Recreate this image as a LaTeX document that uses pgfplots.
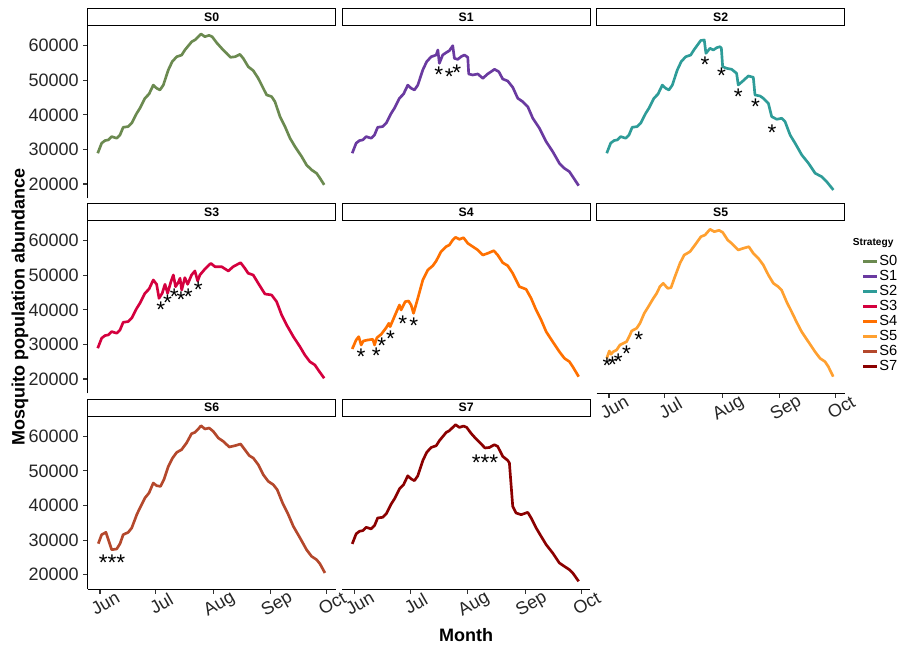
\documentclass[border=0pt]{standalone}
\usepackage{fontspec}
\setmainfont{Liberation Sans}
\usepackage{pgfplots}
\pgfplotsset{compat=1.18}

\definecolor{cS0}{RGB}{107,138,80}
\definecolor{cS1}{RGB}{106,58,160}
\definecolor{cS2}{RGB}{46,156,152}
\definecolor{cS3}{RGB}{212,0,62}
\definecolor{cS4}{RGB}{255,112,0}
\definecolor{cS5}{RGB}{255,160,48}
\definecolor{cS6}{RGB}{180,72,44}
\definecolor{cS7}{RGB}{139,0,0}

\pgfplotsset{
  panel/.style={
    scale only axis, width=186pt, height=129.375pt, anchor=north west,
    xmin=-6.6, xmax=126.9, ymin=15800, ymax=65700,
    axis lines*=left,
    axis line style={-, line width=0.8pt, draw=none},
    xtick=\empty, ytick=\empty,
    xtick pos=left, ytick pos=left,
    tick align=outside, major tick length=3.3pt,
    tick style={line width=0.8pt, black!80},
    /pgf/number format/assume math mode=true,
    tick label style={font=\fontsize{13.5}{16}\selectfont, text=black!85},
    every axis title/.style={at={(0.5,1)}, anchor=south, draw=black,
      line width=0.8pt, fill=white, minimum width=186pt,
      minimum height=12.75pt, inner sep=0pt,
      font=\bfseries\fontsize{9.2}{10}\selectfont},
  },
  yax/.style={ytick={20000,30000,40000,50000,60000},
    y axis line style={draw=black},
    scaled y ticks=false, yticklabel style={/pgf/number format/1000 sep={}}},
  xax/.style={xtick={0,30,61,92,122},
    x axis line style={draw=black},
    xticklabels={Jun,Jul,Aug,Sep,Oct},
    xticklabel style={rotate=30, anchor=north}},
  ser/.style={line width=2pt, color=#1, no markers, line join=round},
  star/.style={only marks, mark=text, text mark={#1}, text mark as node=true,
    text mark style={font=\fontsize{17}{17}\selectfont, text=black}},
}

\begin{document}
\begin{tikzpicture}
\useasboundingbox (0,0) rectangle (675pt,486pt);

% ---- S0
\begin{axis}[panel, yax, at={(65.78pt,466.5pt)}, title={S0}]
\addplot[ser=cS0] coordinates {
(-1.2,28900) (0.9,31800) (2.7,32550) (4.5,32750) (6.3,33700) (9.0,33240)
(10.8,34200) (12.5,36400) (15.2,36600) (17.1,37600) (19.8,40460) (21.5,41900)
(24.2,44800) (26.4,46000) (28.7,48600) (30.5,47700) (32.3,47200) (34.1,48600)
(36.8,53000) (38.9,55400) (41.3,56800) (44.0,57300) (45.7,58750) (49.4,61160)
(51.1,61650) (52.9,62600) (54.4,63380) (56.5,62600) (58.7,63000) (60.4,62600)
(62.8,60870) (65.5,59250) (68.2,57800) (70.3,56650) (72.7,56800) (75.3,57500)
(77.1,56350) (79.8,53930) (82.5,52800) (85.2,50580) (87.0,48650) (89.7,45760)
(92.4,45270) (94.2,43800) (96.9,39500) (99.6,36600) (102.3,33240) (105.0,30800)
(108.6,27900) (111.2,25500) (113.9,24080) (116.6,23100) (118.4,21700) (120.7,19750)
};
\end{axis}

% ---- S1
\begin{axis}[panel, at={(256.65pt,466.5pt)}, title={S1}]
\addplot[ser=cS1] coordinates {
(-1.2,28900) (0.9,31800) (2.7,32550) (4.5,32750) (6.3,33700) (9.0,33240)
(10.8,34200) (12.5,36400) (15.2,36600) (17.1,37600) (19.8,40460) (21.5,41900)
(24.2,44800) (26.4,46000) (28.7,48600) (30.5,47700) (32.3,47200) (34.1,48600)
(36.8,53000) (38.9,55400) (41.3,56800) (44.0,57310) (44.9,58760) (45.7,54900)
(47.5,57310) (49.3,57980) (51.1,58560) (52.9,60000) (53.8,56340) (55.6,56050)
(57.4,56820) (59.2,57310) (61.0,56640) (61.5,51820) (63.7,51530) (66.4,51820)
(69.1,50570) (71.7,51820) (75.4,53170) (77.7,52480) (79.8,50370) (82.5,49790)
(85.2,47970) (87.9,44790) (90.6,43800) (93.3,42360) (96.0,39000) (99.6,36110)
(103.2,32240) (106.7,29380) (110.3,25990) (113.0,24540) (115.7,23560)
(117.5,22110) (120.7,19510)
};
\addplot[star={*}] coordinates {(45.4,51470) (51.1,50890) (55.1,52170)};
\end{axis}

% ---- S2
\begin{axis}[panel, at={(447.53pt,466.5pt)}, title={S2}]
\addplot[ser=cS2] coordinates {
(-1.2,28900) (0.9,31800) (2.7,32550) (4.5,32750) (6.3,33700) (9.0,33240)
(10.8,34200) (12.5,36400) (15.2,36600) (17.1,37600) (19.8,40460) (21.5,41900)
(24.2,44800) (26.4,46000) (28.7,48600) (30.5,47700) (32.3,47200) (34.1,48600)
(36.8,53000) (38.9,55400) (41.3,56800) (44.0,57300) (45.7,58750) (49.4,61500)
(51.3,61650) (52.2,57800) (54.4,59250) (56.2,58760) (58.0,59420) (59.8,59710)
(60.5,59300) (61.2,53930) (63.3,53460) (66.0,53180) (68.7,52020) (69.6,48640)
(72.3,49880) (75.0,51240) (77.7,50860) (78.6,45740) (81.3,45460) (83.1,44790)
(85.8,43340) (87.6,39470) (90.3,38720) (93.0,39000) (94.8,38020) (97.5,34180)
(100.2,31780) (103.8,28390) (107.4,25990) (111.0,23100) (114.5,22110)
(117.2,20670) (120.8,18270)
};
\addplot[star={*}] coordinates {(51.7,54560) (60.6,51180) (69.6,45220) (78.9,42330) (87.8,34810)};
\end{axis}

% ---- S3
\begin{axis}[panel, yax, at={(65.78pt,320.25pt)}, title={S3},
  ylabel={Mosquito population abundance},
  every axis y label/.style={at={(axis description cs:0,0.5)}, xshift=-50.8pt,
    rotate=90, anchor=center, font=\bfseries\fontsize{13.5}{16}\selectfont}]
\addplot[ser=cS3] coordinates {
(-1.2,28900) (0.9,31800) (2.7,32550) (4.5,32750) (6.3,33700) (9.0,33240)
(10.8,34200) (12.5,36400) (15.2,36600) (17.1,37600) (19.8,40460) (21.5,41900)
(24.2,44800) (26.4,46000) (28.7,48640) (30.5,47390) (31.8,43340) (33.5,44790)
(35.0,47390) (36.4,44790) (38.2,48140) (39.5,50080) (40.7,46700) (42.2,47970)
(43.1,49130) (44.0,45740) (45.7,49310) (47.2,47390) (49.3,50080) (51.1,51240)
(52.6,48350) (53.8,50080) (56.5,51820) (59.7,53460) (61.9,52480) (65.5,52480)
(69.1,51240) (71.7,52480) (75.7,53640) (78.0,52020) (79.8,50570) (82.5,50080)
(85.2,47680) (88.8,44590) (92.4,44300) (95.1,42360) (97.8,38520) (100.5,35620)
(104.1,32240) (107.6,29380) (110.3,26940) (113.0,25000) (115.7,24050)
(117.5,22610) (120.7,20210)
};
\addplot[star={*}] coordinates {(32.8,40100) (36.4,42040) (40.0,43780) (43.6,42800) (47.5,43780) (52.9,45700)};
\end{axis}

% ---- S4
\begin{axis}[panel, at={(256.65pt,320.25pt)}, title={S4}]
\addplot[ser=cS4] coordinates {
(-1.2,28680) (0.9,31280) (2.3,32240) (3.6,29840) (4.8,31000) (7.2,31280)
(9.9,31480) (10.8,29840) (12.1,31950) (14.4,32930) (17.1,34840) (18.5,36110)
(19.2,35130) (21.5,38020) (24.2,41400) (25.1,39960) (27.3,42360) (29.1,42560)
(30.5,41400) (31.8,39000) (34.1,43340) (36.8,48640) (39.5,51530) (42.2,52770)
(44.0,54130) (46.6,56820) (49.3,58270) (51.1,58760) (52.9,60200) (54.4,60980)
(56.5,60400) (58.7,60870) (61.0,59250) (63.7,58270) (66.4,57310) (69.1,55860)
(71.7,56340) (75.0,57110) (77.1,55860) (79.8,53640) (82.5,52770) (85.2,50570)
(88.8,46700) (92.4,45950) (95.1,43340) (97.8,39960) (100.5,37070) (103.2,33680)
(106.7,30790) (110.3,27900) (113.0,25990) (115.7,25010) (117.5,23560) (120.7,20670)
};
\addplot[star={*}] coordinates {(3.6,26430) (11.7,26600) (14.7,29490) (19.4,31630) (26.0,36050) (31.9,35270)};
\end{axis}

% ---- S5 (carries the legend)
\begin{axis}[panel, xax, at={(447.53pt,320.25pt)}, title={S5},
  clip mode=individual,
  legend style={at={(1,0.461)}, anchor=west, xshift=12.75pt, draw=none, fill=none,
    font=\fontsize{11}{13}\selectfont, row sep=-0.8pt, inner sep=0pt,
    nodes={inner sep=1pt, text height=8pt, text depth=2pt}},
  legend cell align=left,
  legend image code/.code={\draw[#1] (0pt,0pt) -- (10pt,0pt);}]
\addplot[ser=cS5, forget plot] coordinates {
(-1.2,25990) (0.2,28100) (1.1,27150) (2.3,27900) (4.1,28390) (5.9,29840)
(7.7,30330) (9.5,30790) (11.3,32730) (12.2,33890) (14.9,34670) (16.7,36110)
(19.0,39000) (21.2,40910) (23.9,43340) (25.7,44790) (27.4,46700) (29.2,47680)
(31.6,46230) (33.4,46410) (35.5,49590) (38.2,53460) (40.5,55860) (43.6,56820)
(46.3,58760) (49.5,61160) (51.7,61650) (54.4,63300) (56.7,62600) (59.2,63010)
(61.2,62430) (63.9,60200) (66.0,59250) (69.6,57310) (72.3,57800) (75.3,58260)
(77.7,56340) (80.4,54910) (83.1,52970) (85.8,50080) (88.5,47680) (91.1,46700)
(92.9,45740) (95.6,42360) (98.3,39470) (100.9,36570) (103.7,33680) (107.3,30790)
(110.9,27900) (113.6,25990) (116.3,25010) (118.1,23560) (120.7,20670)
};
\addplot[star={*}, forget plot] coordinates {(-1.0,23710) (1.9,24200) (5.0,24860) (9.5,27380) (16.1,31430)};
\addlegendimage{line width=2pt, cS0}\addlegendentry{S0}
\addlegendimage{line width=2pt, cS1}\addlegendentry{S1}
\addlegendimage{line width=2pt, cS2}\addlegendentry{S2}
\addlegendimage{line width=2pt, cS3}\addlegendentry{S3}
\addlegendimage{line width=2pt, cS4}\addlegendentry{S4}
\addlegendimage{line width=2pt, cS5}\addlegendentry{S5}
\addlegendimage{line width=2pt, cS6}\addlegendentry{S6}
\addlegendimage{line width=2pt, cS7}\addlegendentry{S7}
\node[anchor=west, inner sep=0pt, font=\bfseries\fontsize{7.6}{8}\selectfont]
  at (axis description cs:1.032,0.871) {Strategy};
\end{axis}

% ---- S6
\begin{axis}[panel, yax, xax, at={(65.78pt,173.48pt)}, title={S6}]
\addplot[ser=cS6] coordinates {
(-0.9,28970) (0.9,31580) (3.2,32240) (6.3,27230) (9.0,27430) (10.8,28970)
(12.5,31580) (15.2,32240) (17.1,33510) (19.8,37360) (21.5,39290) (24.2,42180)
(26.4,43630) (28.7,46520) (30.5,45740) (32.6,45540) (34.4,47480) (36.8,51320)
(39.1,53750) (41.3,55370) (43.9,56150) (46.6,58090) (49.3,60780) (51.1,61160)
(52.9,62140) (54.4,63090) (56.5,62140) (58.8,62430) (61.0,61450) (63.7,59540)
(66.4,58550) (69.6,56930) (72.7,57310) (75.7,57800) (78.0,56150) (80.4,54420)
(82.5,53750) (85.2,51820) (87.9,48920) (90.6,46990) (93.3,46030) (95.4,44590)
(98.3,40740) (101.4,37360) (104.1,33970) (107.7,30620) (111.2,27230)
(113.9,25300) (116.6,24340) (118.4,23160) (121.1,20500)
};
\addplot[star={***}] coordinates {(6.5,23530)};
\end{axis}

% ---- S7
\begin{axis}[panel, xax, at={(256.65pt,173.48pt)}, title={S7},
  xlabel={Month},
  every axis x label/.style={at={(axis description cs:0.5,0)}, anchor=center,
    yshift=-34.5pt, font=\bfseries\fontsize{13.5}{16}\selectfont}]
\addplot[ser=cS7] coordinates {
(-1.2,28900) (0.9,31800) (2.7,32550) (4.5,32750) (6.3,33700) (9.0,33240)
(10.8,34200) (12.5,36400) (15.2,36600) (17.1,37600) (19.8,40460) (21.5,41900)
(24.2,44800) (26.4,46000) (28.7,48600) (30.5,47700) (32.3,47200) (34.1,48600)
(36.8,53000) (38.9,55400) (41.3,56800) (44.0,57300) (45.7,58750) (49.4,61160)
(51.1,61650) (52.9,62600) (54.4,63380) (56.5,62600) (58.7,63000) (60.4,62600)
(62.8,60870) (65.5,59250) (68.2,57800) (70.3,56650) (72.7,56800) (75.3,57600)
(77.1,57110) (79.8,54220) (82.5,53060) (83.4,52310) (85.2,39760) (87.0,37850)
(89.7,37360) (93.3,38020) (95.1,36400) (97.8,33510) (100.5,31080) (103.2,28680)
(106.7,26280) (110.3,23390) (113.0,22400) (115.7,21450) (117.5,20500) (120.7,18070)
};
\addplot[star={***}] coordinates {(70.3,52250)};
\end{axis}
\end{tikzpicture}
\end{document}
